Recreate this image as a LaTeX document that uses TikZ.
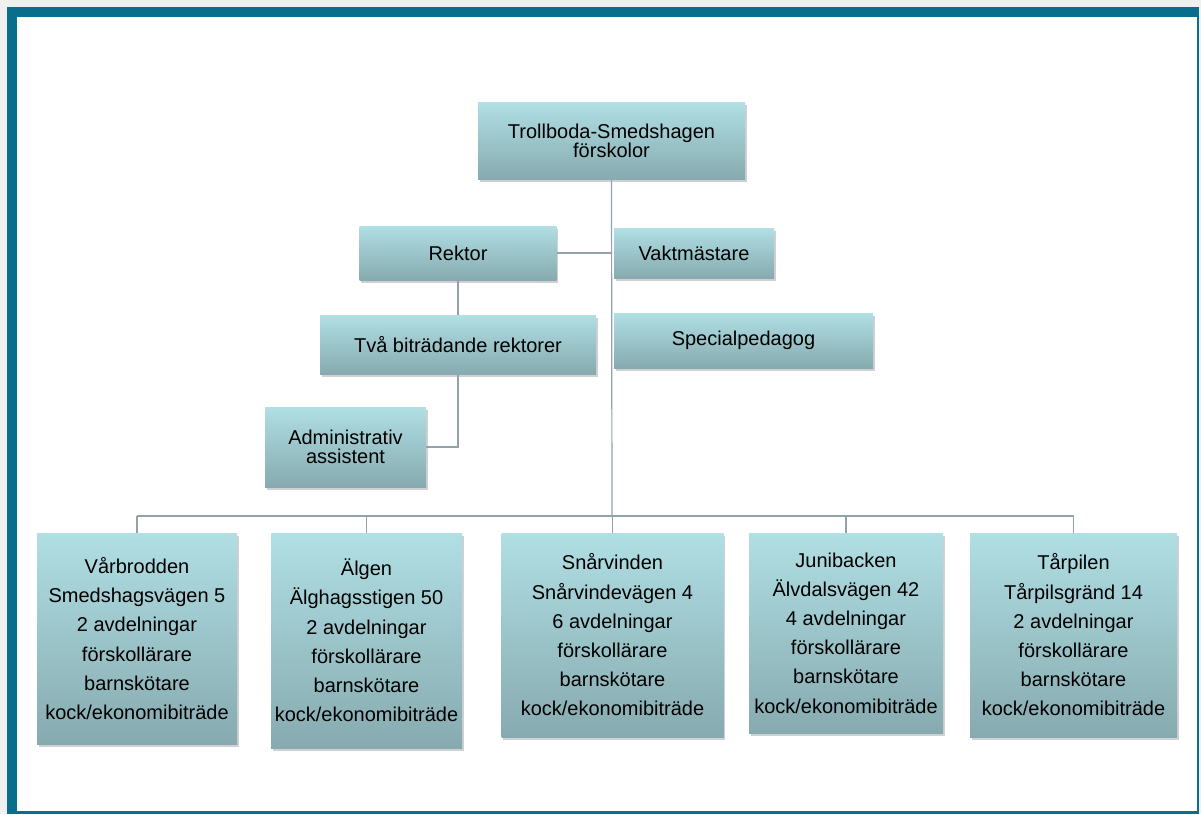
\documentclass[tikz,border=0pt]{standalone}
\usepackage{fontspec}
\setmainfont{Liberation Sans}
\usetikzlibrary{shadows}

\definecolor{frameteal}{RGB}{8,110,140}
\definecolor{boxtop}{RGB}{176,223,228}
\definecolor{boxbot}{RGB}{134,170,175}
\definecolor{linegray}{RGB}{145,163,168}

\begin{document}
\begin{tikzpicture}[x=1pt, y=-1pt,
    unit/.style={rectangle, top color=boxtop, bottom color=boxbot, draw=none,
      align=center, inner sep=2pt, font=\fontsize{20}{19}\selectfont,
      drop shadow={shadow xshift=1.5pt, shadow yshift=-2.5pt, opacity=0.3, fill=black!60}},
    school/.style={unit, font=\fontsize{20}{29.2}\selectfont},
    conn/.style={draw=linegray, line width=1.2pt}]

        \useasboundingbox (0,0) rectangle (1201,814);
        \fill[black!6] (0,0) rectangle (1201,814);
        \fill[frameteal] (7,7) rectangle (1199,814);
        \fill[white] (17,17) rectangle (1197,811);

        \node[unit, minimum width=267pt, minimum height=77pt] (top) at (611.5,141) {Trollboda-Smedshagen\\förskolor};
        \node[unit, minimum width=197pt, minimum height=54pt] (rektor) at (458,253) {Rektor};
        \node[unit, minimum width=160pt, minimum height=50pt] (vakt) at (694,253) {Vaktmästare};
        \node[unit, minimum width=276pt, minimum height=59pt] (bitr) at (458,344.5) {Två biträdande rektorer};
        \node[unit, minimum width=259pt, minimum height=55pt] (spec) at (743.5,340.5) {Specialpedagog};
        \node[unit, minimum width=161pt, minimum height=80pt] (admin) at (345.5,447) {Administrativ\\assistent};

        \node[school, minimum width=200pt, minimum height=211pt] (var) at (137,638.5)
          {Vårbrodden\\Smedshagsvägen 5\\2 avdelningar\\förskollärare\\barnskötare\\kock/ekonomibiträde};
        \node[school, minimum width=191pt, minimum height=215pt] (alg) at (366.5,640.5)
          {Älgen\\Älghagsstigen 50\\2 avdelningar\\förskollärare\\barnskötare\\kock/ekonomibiträde};
        \node[school, minimum width=222pt, minimum height=204pt] (snar) at (612.5,635)
          {Snårvinden\\Snårvindevägen 4\\6 avdelningar\\förskollärare\\barnskötare\\kock/ekonomibiträde};
        \node[school, minimum width=194pt, minimum height=200pt] (juni) at (846,633)
          {Junibacken\\Älvdalsvägen 42\\4 avdelningar\\förskollärare\\barnskötare\\kock/ekonomibiträde};
        \node[school, minimum width=207pt, minimum height=204pt] (tar) at (1073.5,635)
          {Tårpilen\\Tårpilsgränd 14\\2 avdelningar\\förskollärare\\barnskötare\\kock/ekonomibiträde};

        \coordinate (bus) at (612,516);

        \draw[conn] (top.south) -- (bus);
        \draw[conn] (rektor.east) -- (rektor.east -| top.south);
        \draw[conn] (rektor.south) -- (bitr.north);
        \draw[conn] (bitr.south) |- (admin.east);
        % bus to the preschools
        \draw[conn] (var.north |- bus) -- (tar.north |- bus);
        \foreach \s in {var, alg, snar, juni, tar}
          \draw[conn] (\s.north) -- (\s.north |- bus);
\end{tikzpicture}
\end{document}
